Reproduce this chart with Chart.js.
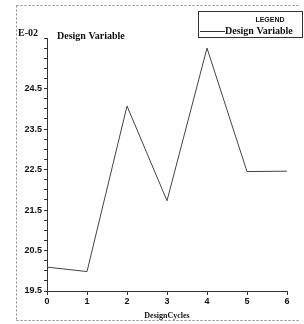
<!DOCTYPE html>
<html>
<head>
<meta charset="utf-8">
<script src="https://cdn.jsdelivr.net/npm/chart.js@4"></script>
<style>
  html, body { margin: 0; padding: 0; background: #fff; }
  #wrap { width: 304px; height: 324px; position: relative; }
</style>
</head>
<body>
<div id="wrap"><canvas id="chart" width="304" height="324"></canvas></div>
<script>
// data
const cycles = [0, 1, 2, 3, 4, 5, 6];
const designVariable = [20.09, 19.98, 24.07, 21.73, 25.5, 22.45, 22.46];
const yLabels = [19.5, 20.5, 21.5, 22.5, 23.5, 24.5];

const serif = "'Liberation Serif', 'DejaVu Serif', serif";
const sans = "'Liberation Sans', 'DejaVu Sans', sans-serif";

// frame, exponent note, title and legend box
const decorations = {
    id: "decorations",
    afterDraw(chart) {
        const c = chart.ctx;
        c.save();
        c.strokeStyle = "#888";
        c.lineWidth = 1;
        c.setLineDash([2, 2]);
        c.beginPath();
        c.moveTo(16.5, 5.5); c.lineTo(300, 5.5);
        c.moveTo(16.5, 5.5); c.lineTo(16.5, 320);
        c.moveTo(16.5, 320.5); c.lineTo(300, 320.5);
        c.stroke();
        c.setLineDash([]);

        c.fillStyle = "#111";
        c.font = "bold 10px " + serif;
        c.textBaseline = "alphabetic";
        c.fillText("E-02", 18, 36);
        c.fillText("Design Variable", 57, 39);

        // legend box
        c.strokeStyle = "#333";
        c.strokeRect(198.5, 11.5, 104, 26);
        c.font = "bold 7px " + sans;
        c.textAlign = "center";
        c.fillText("LEGEND", 270, 22);
        c.textAlign = "left";
        c.beginPath();
        c.moveTo(200, 31.5); c.lineTo(225, 31.5);
        c.stroke();
        c.font = "bold 10px " + serif;
        c.fillText("Design Variable", 225, 34);
        c.restore();
    }
};

new Chart(document.getElementById("chart"), {
    type: "line",
    data: {
        datasets: [{
            label: "Design Variable",
            data: cycles.map((x, i) => ({ x: x, y: designVariable[i] })),
            borderColor: "#444",
            borderWidth: 1,
            pointRadius: 0,
            tension: 0,
        }],
    },
    options: {
        responsive: false,
        animation: false,
        layout: { padding: { left: 0, top: 38, right: 17, bottom: 0 } },
        plugins: { legend: { display: false }, tooltip: { enabled: false } },
        scales: {
            x: {
                type: "linear",
                min: 0,
                max: 6,
                afterFit: s => { s.height = 33; },
                ticks: { stepSize: 1, color: "#111", font: { family: sans, size: 9, weight: "bold" }, padding: 1, maxRotation: 0 },
                grid: { drawOnChartArea: false, tickLength: 4, color: "#333" },
                border: { color: "#333" },
                title: { display: true, text: "DesignCycles", color: "#111", font: { family: serif, size: 8, weight: "bold" }, padding: { top: 0, bottom: 3 } },
            },
            y: {
                min: 19.5,
                max: 25.75,
                afterFit: s => { s.width = 47; },
                afterBuildTicks: s => {
                    const t = [];
                    for (let v = 19.5; v <= 25.75; v += 0.25) t.push({ value: v });
                    s.ticks = t;
                },
                ticks: {
                    autoSkip: false,
                    color: "#111",
                    font: { family: sans, size: 9, weight: "bold" },
                    padding: 2,
                    callback: v => yLabels.some(l => Math.abs(l - v) < 1e-6) ? v.toFixed(1) : "",
                },
                grid: { drawOnChartArea: false, tickLength: 3, color: "#333" },
                border: { color: "#333" },
            },
        },
    },
    plugins: [decorations],
});
</script>
</body>
</html>
